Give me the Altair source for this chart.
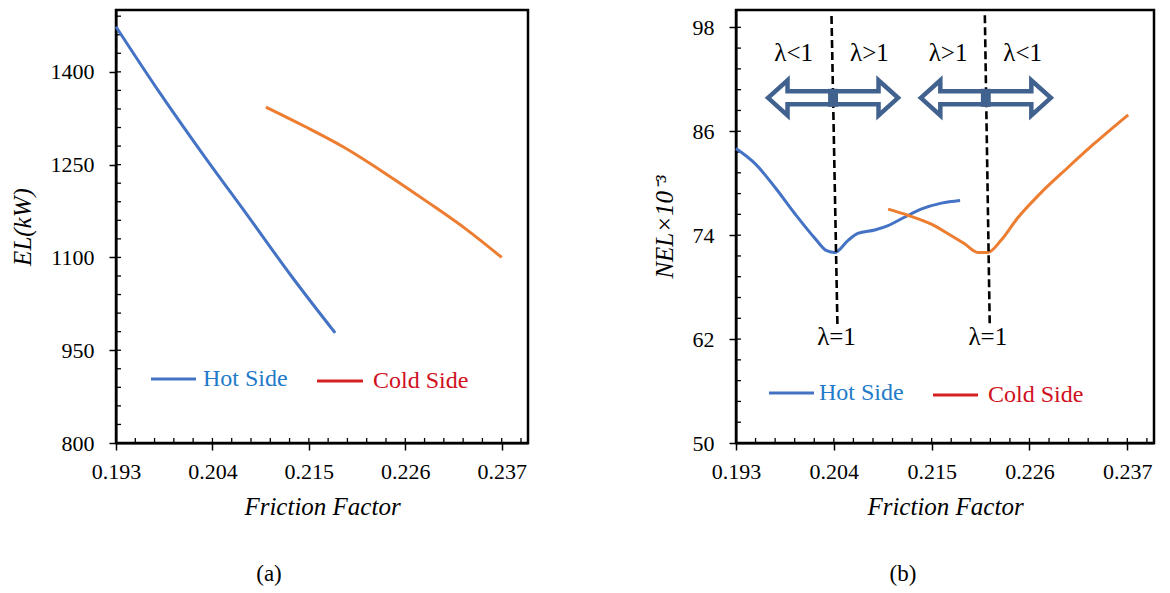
import altair as alt
import pandas as pd

FONT = "Liberation Serif"
BLUE = "#4472C4"
ORANGE = "#ED7D31"
ARROW = "#41628F"
HOT_TXT = "#1F7BC9"
COLD_TXT = "#D0101C"

series = ["Hot Side", "Cold Side"]
line_colors = [BLUE, ORANGE]
legend_line_colors = [BLUE, "#D42020"]
legend_text_colors = [HOT_TXT, COLD_TXT]

# ---- panel (a): EL (kW) vs friction factor
a_hot_f = [0.193, 0.198, 0.203, 0.208, 0.213, 0.218]
a_hot_el = [1473, 1366, 1265, 1168, 1070, 978]
a_cold_f = [0.2101, 0.2145, 0.219, 0.2238, 0.2286, 0.233, 0.237]
a_cold_el = [1343, 1312, 1278, 1235, 1189, 1145, 1100]

# ---- panel (b): NEL x 10^-3 vs friction factor
b_hot_f = [0.193, 0.1952, 0.1974, 0.1996, 0.2019, 0.2032, 0.2041, 0.2056,
           0.2067, 0.2086, 0.2101, 0.2120, 0.2138, 0.2161, 0.2182]
b_hot_nel = [84.0, 82.2, 79.5, 76.5, 73.6, 72.2, 72.0, 73.4,
             74.2, 74.6, 75.1, 76.1, 77.0, 77.7, 78.0]
b_cold_f = [0.2101, 0.2123, 0.2149, 0.2168, 0.2187, 0.2202, 0.2213, 0.2228,
            0.2246, 0.2272, 0.2302, 0.2332, 0.2371]
b_cold_nel = [77.0, 76.3, 75.3, 74.2, 73.0, 72.0, 72.0, 73.4,
              75.9, 78.8, 81.7, 84.5, 87.9]

# annotations of panel (b)
dash_f_top = [0.20374, 0.22098]
dash_f_bot = [0.20441, 0.22153]
dash_top = [99.3, 99.4]
dash_bot = [63.4, 63.6]
lam_labels = ["λ<1", "λ>1", "λ>1", "λ<1", "λ=1", "λ=1"]
lam_f = [0.19949, 0.20800, 0.21684, 0.22523, 0.20430, 0.22131]
lam_nel = [95.0, 95.0, 95.0, 95.0, 62.2, 62.2]
arrow_f = [0.20391, 0.22109]
arrow_nel = [89.86, 89.86]

# axes
x_domain = [0.193, 0.240]
x_ticks = [0.193, 0.204, 0.215, 0.226, 0.237]
x_minor = [round(0.193 + 0.0022 * i, 4) for i in range(22)]
a_y_domain = [800, 1500]
a_y_ticks = [800, 950, 1100, 1250, 1400]
a_y_minor = [800 + 30 * i for i in range(24)]
b_y_domain = [50, 100]
b_y_ticks = [50, 62, 74, 86, 98]
b_y_minor = [round(50 + 2.4 * i, 1) for i in range(21)]

W_A, W_B, H = 412, 418, 433
MINOR_LEN = 5

ARROW_PATH = ("M-1,0L-0.7,-0.27L-0.7,-0.1L0.7,-0.1L0.7,-0.27L1,0"
              "L0.7,0.27L0.7,0.1L-0.7,0.1L-0.7,0.27Z")
BLOCK_PATH = "M-0.55,-1L0.55,-1L0.55,1L-0.55,1Z"

xs = alt.Scale(domain=x_domain, nice=False, zero=False)


def ax_x():
    return alt.Axis(values=x_ticks, format=".3f", title="Friction Factor",
                    orient="bottom", labelPadding=11, titlePadding=12,
                    labelFlush=False, labelOverlap=False)


def ax_y(yticks, ytitle):
    return alt.Axis(values=yticks, format="d", title=ytitle,
                    orient="left", labelPadding=15, titlePadding=15,
                    labelFlush=False, labelOverlap=False)


def series_df(hf, hy, cf, cy):
    return pd.DataFrame({
        "f": hf + cf,
        "v": hy + cy,
        "s": [series[0]] * len(hf) + [series[1]] * len(cf),
    })


def panel(df, width, ydom, yticks, yminor, ytitle, legend_pos, caption, extra_fn=None):
    ys = alt.Scale(domain=ydom, nice=False, zero=False)
    X = lambda fld: alt.X(fld, scale=xs, axis=ax_x())
    Y = lambda fld: alt.Y(fld, scale=ys, axis=ax_y(yticks, ytitle))
    lines = alt.Chart(df).mark_line(strokeWidth=3, interpolate="monotone").encode(
        x=X("f:Q"), y=Y("v:Q"),
        color=alt.Color("s:N", scale=alt.Scale(domain=series, range=line_colors),
                        legend=None),
        detail="s:N",
    )
    # inward minor ticks
    mx = alt.Chart(pd.DataFrame({"f": x_minor})).mark_rule(
        color="black", strokeWidth=1.3).encode(
        x=X("f:Q"), y=alt.value(H - MINOR_LEN), y2=alt.value(H))
    my = alt.Chart(pd.DataFrame({"v": yminor})).mark_rule(
        color="black", strokeWidth=1.3).encode(
        y=Y("v:Q"), x=alt.value(0), x2=alt.value(MINOR_LEN))
    layers = [mx, my, lines]
    if extra_fn is not None:
        layers.extend(extra_fn(X, Y))
    # manual legend
    for i, name in enumerate(series):
        (lx1, lx2, ly, tx) = legend_pos[i]
        seg = alt.Chart(pd.DataFrame({"s": [name]})).mark_rule(
            strokeWidth=3, color=legend_line_colors[i]).encode(
            x=alt.value(lx1), x2=alt.value(lx2), y=alt.value(ly))
        txt = alt.Chart(pd.DataFrame({"s": [name]})).mark_text(
            font=FONT, fontSize=24, align="left", baseline="middle",
            color=legend_text_colors[i]).encode(
            x=alt.value(tx), y=alt.value(ly), text="s:N")
        layers.extend([seg, txt])
    return alt.layer(*layers).properties(
        width=width, height=H,
        title=alt.TitleParams(caption, orient="bottom", anchor="middle", frame="bounds",
                              offset=44, fontSize=23, font=FONT, fontWeight="normal",
                              color="black"),
    )


df_a = series_df(a_hot_f, a_hot_el, a_cold_f, a_cold_el)
df_b = series_df(b_hot_f, b_hot_nel, b_cold_f, b_cold_nel)


def b_extras(X, Y):
    dash_df = pd.DataFrame({"f": dash_f_top, "f2": dash_f_bot, "v": dash_top, "v2": dash_bot})
    dashes = alt.Chart(dash_df).mark_rule(color="black", strokeWidth=2.6,
                                          strokeDash=[8, 4]).encode(
        x=X("f:Q"), x2="f2:Q", y=Y("v:Q"), y2="v2:Q")
    lam_df = pd.DataFrame({"f": lam_f, "v": lam_nel, "t": lam_labels})
    lams = alt.Chart(lam_df).mark_text(font=FONT, fontSize=25, color="black",
                                       baseline="middle", align="center").encode(
        x=X("f:Q"), y=Y("v:Q"), text="t:N")
    arr_df = pd.DataFrame({"f": arrow_f, "v": arrow_nel})
    arrows = alt.Chart(arr_df).mark_point(shape=ARROW_PATH, size=16900, filled=True,
                                          fill="white", stroke=ARROW, strokeWidth=4.5,
                                          opacity=1).encode(x=X("f:Q"), y=Y("v:Q"))
    blocks = alt.Chart(arr_df).mark_point(shape=BLOCK_PATH, size=324, filled=True,
                                          fill=ARROW, strokeWidth=0, opacity=1).encode(
        x=X("f:Q"), y=Y("v:Q"))
    return [dashes, arrows, blocks, lams]


panel_a = panel(df_a, W_A, a_y_domain, a_y_ticks, a_y_minor, "EL(kW)",
                [(35, 80, 369, 87), (201, 247, 371, 257)], "(a)")
panel_b = panel(df_b, W_B, b_y_domain, b_y_ticks, b_y_minor, "NEL×10⁻³",
                [(33, 78, 383, 83), (197, 242, 385, 252)], "(b)", extra_fn=b_extras)

chart = alt.hconcat(panel_a, panel_b, spacing=120).properties(
    padding={"left": 0, "top": 0, "right": 5, "bottom": 5}, background="white"
).configure_view(stroke="black", strokeWidth=2.5).configure_axis(
    labelFont=FONT, labelFontSize=22, labelColor="black",
    titleFont=FONT, titleFontSize=25, titleFontStyle="italic", titleFontWeight="normal",
    titleColor="black", tickColor="black", domainColor="black", tickSize=7,
    domainWidth=2, tickWidth=1.5, grid=False,
)

chart.save("out.html", embed_options={"renderer": "svg", "actions": False})
